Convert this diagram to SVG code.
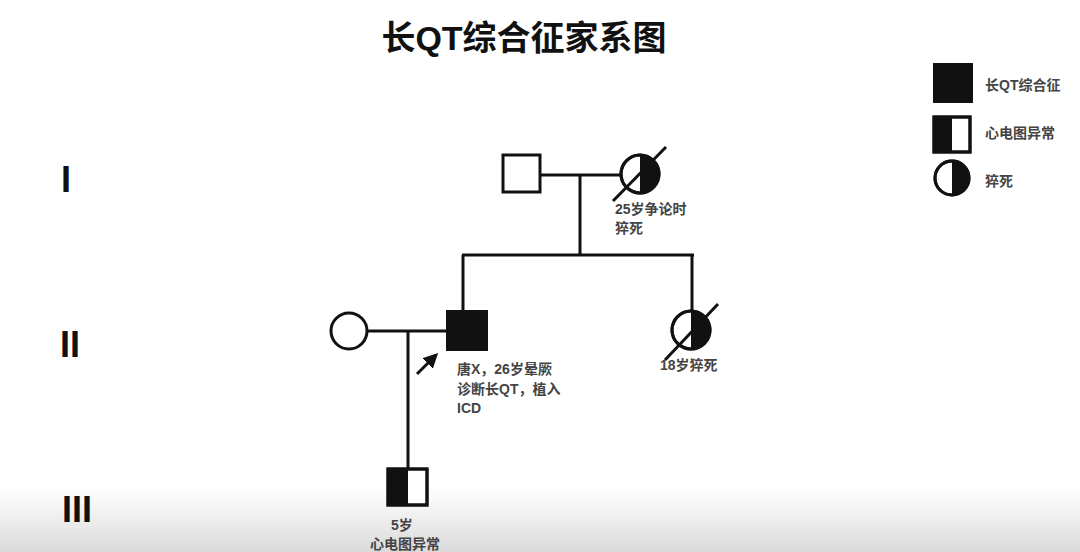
<svg xmlns="http://www.w3.org/2000/svg" width="1080" height="552" viewBox="0 0 1080 552">
<defs>
<linearGradient id="bg" x1="0" y1="0" x2="0" y2="1">
<stop offset="0" stop-color="#ffffff"/>
<stop offset="0.88" stop-color="#ffffff"/>
<stop offset="0.94" stop-color="#eeeeee"/>
<stop offset="1" stop-color="#dadada"/>
</linearGradient>
<marker id="ah" viewBox="0 0 10 10" refX="8" refY="5" markerWidth="5" markerHeight="5" orient="auto">
<path d="M0,0 L10,5 L0,10 z" fill="#111"/>
</marker>
</defs>
<style>
.ln{stroke:#111;stroke-width:3;fill:none}
.sh{stroke:#111;stroke-width:3;fill:#fff}
.bk{fill:#111}
.lbl{font-family:"Liberation Sans","Noto Sans CJK SC",sans-serif;font-size:14px;font-weight:bold;fill:#444}
.gen{font-family:"Liberation Sans",sans-serif;font-size:36px;font-weight:bold;fill:#111}
</style>
<rect width="1080" height="552" fill="url(#bg)"/>
<text x="524" y="50" text-anchor="middle" font-family="Liberation Sans,Noto Sans CJK SC,sans-serif" font-size="34" font-weight="bold" fill="#111">长QT综合征家系图</text>
<text class="gen" x="61" y="192">I</text>
<text class="gen" x="60" y="357">II</text>
<text class="gen" x="62" y="522">III</text>
<g id="connectors">
<line class="ln" x1="541" y1="175" x2="621" y2="175"/>
<line class="ln" x1="580" y1="175" x2="580" y2="255"/>
<line class="ln" x1="462" y1="255" x2="694" y2="255"/>
<line class="ln" x1="463" y1="255" x2="463" y2="311"/>
<line class="ln" x1="692" y1="255" x2="692" y2="311"/>
<line class="ln" x1="367" y1="331" x2="447" y2="331"/>
<line class="ln" x1="408" y1="331" x2="408" y2="468"/>
<line class="ln" x1="417" y1="374" x2="436" y2="355" marker-end="url(#ah)"/>
</g>
<g id="I1">
<rect class="sh" x="503" y="155" width="37" height="37"/>
</g>
<g id="I2">
<circle class="sh" cx="640" cy="174" r="19"/>
<path class="bk" d="M640,155 A19,19 0 0 1 640,193 z"/>
<circle class="ln" cx="640" cy="174" r="19"/>
<line class="ln" x1="613" y1="201" x2="666" y2="147"/>
<text class="lbl" x="615" y="214">25岁争论时</text>
<text class="lbl" x="615" y="233">猝死</text>
</g>
<g id="II1">
<circle class="sh" cx="349" cy="331" r="18"/>
</g>
<g id="II2">
<rect x="447" y="311" width="40" height="39" fill="#111" stroke="#111" stroke-width="2"/>
<text class="lbl" x="457" y="374">唐X，26岁晕厥</text>
<text class="lbl" x="457" y="394">诊断长QT，植入</text>
<text class="lbl" x="457" y="413">ICD</text>
</g>
<g id="II3">
<circle class="sh" cx="691" cy="330" r="19"/>
<path class="bk" d="M691,311 A19,19 0 0 1 691,349 z"/>
<circle class="ln" cx="691" cy="330" r="19"/>
<line class="ln" x1="665" y1="360" x2="718" y2="304"/>
<text class="lbl" x="660" y="370">18岁猝死</text>
</g>
<g id="III1">
<rect class="sh" x="388" y="469" width="39" height="36"/>
<rect class="bk" x="388" y="469" width="20" height="36"/>
<rect class="ln" x="388" y="469" width="39" height="36"/>
<text class="lbl" x="391" y="530">5岁</text>
<text class="lbl" x="370" y="549">心电图异常</text>
</g>
<g id="legend">
<rect x="934" y="64" width="38" height="38" fill="#111" stroke="#111" stroke-width="2"/>
<text class="lbl" x="985" y="90">长QT综合征</text>
<rect class="sh" x="934" y="117" width="36" height="35"/>
<rect class="bk" x="934" y="117" width="18" height="35"/>
<rect class="ln" x="934" y="117" width="36" height="35"/>
<text class="lbl" x="985" y="138">心电图异常</text>
<circle class="sh" cx="952" cy="178" r="17"/>
<path class="bk" d="M952,161 A17,17 0 0 1 952,195 z"/>
<circle class="ln" cx="952" cy="178" r="17"/>
<text class="lbl" x="985" y="186">猝死</text>
</g>
</svg>
